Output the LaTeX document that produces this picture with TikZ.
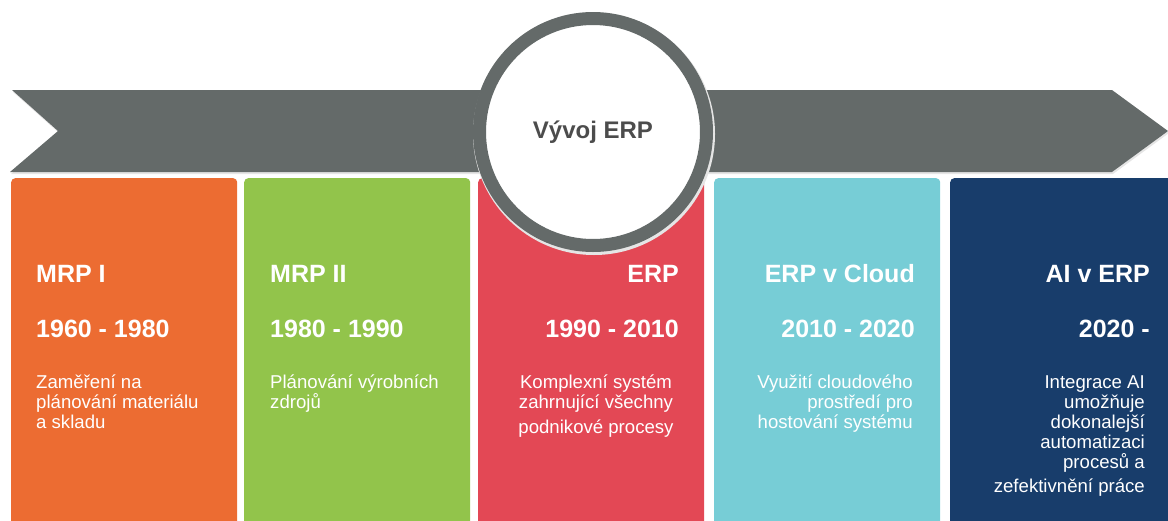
\documentclass[tikz,border=0pt]{standalone}
\usepackage{fontspec}
\setmainfont{Liberation Sans}
\usetikzlibrary{calc}

\definecolor{bandgray}{HTML}{646A69}
\definecolor{mrpone}{HTML}{EC6C32}
\definecolor{mrptwo}{HTML}{92C44B}
\definecolor{erpred}{HTML}{E34855}
\definecolor{cloudcyan}{HTML}{77CDD6}
\definecolor{ainavy}{HTML}{183D6B}

\tikzset{
    card/.style={rounded corners=4pt, inner sep=0pt, minimum width=226pt, minimum height=360pt, anchor=north west},
    head/.style={text=white, font=\fontsize{25}{28}\selectfont\bfseries, inner sep=0pt},
    desc/.style={text=white, font=\fontsize{18.6}{20}\selectfont, inner sep=0pt},
}

\begin{document}
\begin{tikzpicture}[x=1pt, y=-1pt]
        \useasboundingbox (0,0) rectangle (1168,520);
        \clip (0,0) rectangle (1168,520);

        % band
        \fill[black!10] (13,92) -- (1113,92) -- (1169,133) -- (1113,174) -- (11,174) -- (59,133) -- cycle;
        \fill[bandgray] (12,90) -- (1112,90) -- (1168,131) -- (1112,172) -- (10,172) -- (58,131) -- cycle;

        \node (mrpI)  [card, fill=mrpone]    at (11,178) {};
        \node (mrpII) [card, fill=mrptwo]    at (244,178) {};
        \node (erp)   [card, fill=erpred]    at (478,178) {};
        \node (cloud) [card, fill=cloudcyan] at (714,178) {};
        \node (ai)    [card, fill=ainavy]    at (950,178) {};

        % circle
        \fill[black!10] (594,134) circle (121);
        \node (vyvoj) [circle, fill=white, draw=bandgray, line width=13pt, minimum size=227pt, inner sep=0pt,
              text=black!70, font=\fontsize{24}{28}\selectfont\bfseries] at (593,132) {Vývoj ERP};

        % texts (multi-line nodes sit on their last baseline)
        \node (mrpIname)  [head, anchor=base west] at (36,282) {MRP I};
        \node (mrpIyear)  [head, anchor=base west] at (36,337) {1960 - 1980};
        \node (mrpItext)  [desc, anchor=base west, align=left] at (36,428) {Zaměření na\\plánování materiálu\\a skladu};

        \node (mrpIIname) [head, anchor=base west] at (270,282) {MRP II};
        \node (mrpIIyear) [head, anchor=base west] at (270,337) {1980 - 1990};
        \node (mrpIItext) [desc, anchor=base west, align=left] at (270,408) {Plánování výrobních\\zdrojů};

        \node (erpname)   [head, anchor=base east] at (679,282) {ERP};
        \node (erpyear)   [head, anchor=base east] at (679,337) {1990 - 2010};
        \node (erptext)   [desc, anchor=base, align=center] at (596,433) {Komplexní systém\\zahrnující všechny\\[5pt]podnikové procesy};

        \node (cloudname) [head, anchor=base east] at (915,282) {ERP v Cloud};
        \node (cloudyear) [head, anchor=base east] at (915,337) {2010 - 2020};
        \node (cloudtext) [desc, anchor=base east, align=right] at (913,428) {Využití cloudového\\prostředí pro\\hostování systému};

        \node (ainame)    [head, anchor=base east] at (1150,282) {AI v ERP};
        \node (aiyear)    [head, anchor=base east] at (1150,337) {2020 -};
        \node (aitext)    [desc, anchor=base east, align=right] at (1145,492) {Integrace AI\\umožňuje\\dokonalejší\\automatizaci\\procesů a\\[4pt]zefektivnění práce};
    \end{tikzpicture}
\end{document}
